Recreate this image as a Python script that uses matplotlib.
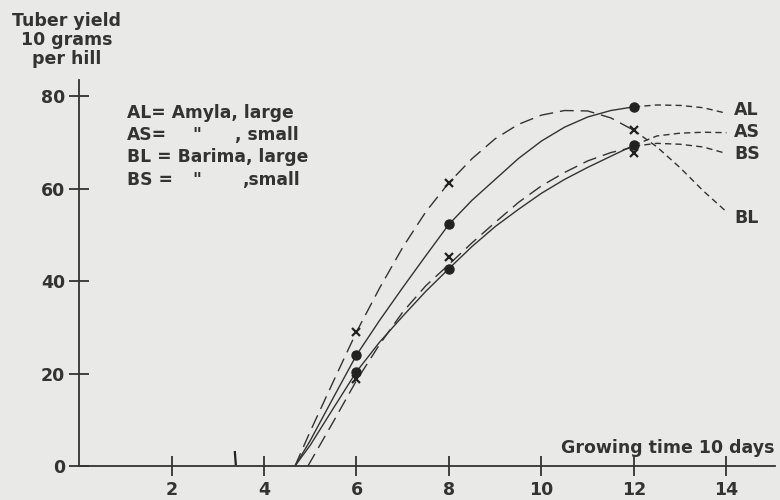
import matplotlib.pyplot as plt

# sampling days (10-day units) and readings
al_x = [4.67, 5.0, 5.5, 6.0, 6.5, 7.0, 7.5, 8.0, 8.5, 9.0, 9.5, 10.0, 10.5, 11.0, 11.5, 12.0]
al_y = [0, 5.5, 14.8, 24.0, 31.5, 38.6, 45.5, 52.3, 57.5, 62.0, 66.5, 70.3, 73.3, 75.5, 76.9, 77.7]
as_x = [4.67, 5.0, 5.5, 6.0, 6.5, 7.0, 7.5, 8.0, 8.5, 9.0, 9.5, 10.0, 10.5, 11.0, 11.5, 12.0]
as_y = [0, 4.5, 12.5, 20.4, 26.8, 32.4, 37.8, 42.7, 47.5, 51.8, 55.5, 59.0, 62.0, 64.6, 67.0, 69.4]
bl_x = [4.67, 5.0, 5.5, 6.0, 6.5, 7.0, 7.5, 8.0, 8.5, 9.0, 9.5, 10.0, 10.5, 11.0, 11.5, 12.0]
bl_y = [0, 7.5, 18.3, 29.0, 38.5, 47.3, 55.0, 61.3, 66.5, 70.8, 73.9, 75.9, 76.9, 76.8, 75.3, 72.6]
bs_x = [4.95, 5.5, 6.0, 6.5, 7.0, 7.5, 8.0, 8.5, 9.0, 9.5, 10.0, 10.5, 11.0, 11.5, 12.0]
bs_y = [0, 9.6, 18.5, 26.3, 33.3, 39.0, 43.6, 48.3, 52.7, 57.0, 60.6, 63.5, 66.0, 67.8, 69.0]

# extrapolated parts beyond the last harvest
ext_x = [12.0, 12.5, 13.0, 13.5, 14.0]
al_ext = [77.7, 78.1, 78.0, 77.5, 76.3]
as_ext = [69.4, 71.4, 72.0, 72.2, 72.1]
bl_ext = [72.6, 69.0, 64.5, 59.5, 55.0]
bs_ext = [69.2, 69.8, 69.6, 69.0, 67.6]

# harvest observations
harvest = [6, 8, 12]
al_obs = [24.0, 52.3, 77.7]
as_obs = [20.4, 42.7, 69.4]
bl_obs = [29.0, 61.3, 72.6]
bs_obs = [18.8, 45.3, 67.7]

x_ticks = [2, 4, 6, 8, 10, 12, 14]
y_ticks = [0, 20, 40, 60, 80]
planting = 3.37

ink = '#333333'
paper = '#e9e9e7'
plt.rcParams['font.family'] = ['DejaVu Sans']

fig = plt.figure(figsize=(7.8, 5.0), dpi=100, facecolor=paper)
ax = fig.add_axes([0.1013, 0.068, 0.8923, 0.772])
ax.set_facecolor(paper)
ax.set_xlim(0, 15.05)
ax.set_ylim(0, 83.5)

long_dash = (0, (10, 5))
short_dash = (0, (4.5, 3))
lw = 1.0

ax.plot(al_x, al_y, color=ink, lw=lw)
ax.plot(as_x, as_y, color=ink, lw=lw)
ax.plot(bl_x, bl_y, color=ink, lw=lw, ls=long_dash)
ax.plot(bs_x, bs_y, color=ink, lw=lw, ls=long_dash)
for ys in (al_ext, as_ext, bl_ext, bs_ext):
    ax.plot(ext_x, ys, color=ink, lw=lw, ls=short_dash, clip_on=False)

for obs in (al_obs, as_obs):
    ax.plot(harvest, obs, 'o', color='#222222', ms=6.5, zorder=5)
for obs in (bl_obs, bs_obs):
    ax.plot(harvest, obs, 'x', color='#222222', ms=6, mew=1.6, zorder=5)

# small stroke on the axis
ax.plot([planting + 0.02, planting], [0.4, 3.0], color='#222222', lw=1.6)

for side in ('top', 'right'):
    ax.spines[side].set_visible(False)
for side in ('left', 'bottom'):
    ax.spines[side].set_color(ink)
    ax.spines[side].set_linewidth(1.3)

tick_font = dict(fontsize=12.5, fontweight='bold', color=ink)
ax.set_xticks(x_ticks)
ax.set_xticklabels([str(t) for t in x_ticks], **tick_font)
ax.set_yticks(y_ticks)
ax.set_yticklabels([str(t) for t in y_ticks], **tick_font)
ax.tick_params(axis='both', direction='inout', length=14, width=1.3, color=ink)
ax.tick_params(axis='x', pad=4)
ax.tick_params(axis='y', pad=3)

ax.text(10.43, 3.9, 'Growing time 10 days', fontsize=12.5, fontweight='bold',
        color=ink, va='center', ha='left', clip_on=False)
fig.text(67 / 780, 1 - 40 / 500, 'Tuber yield\n10 grams\nper hill', ha='center',
         va='center', fontsize=12.5, fontweight='bold', color=ink, linespacing=1.05)

# key
key_font = dict(fontsize=12.3, fontweight='bold', color=ink, va='center')
ax.text(1.04, 76.3, 'AL= Amyla, large', **key_font)
ax.text(1.04, 71.6, 'AS=', **key_font)
ax.text(2.46, 71.6, '"', **key_font)
ax.text(3.37, 71.6, ', small', **key_font)
ax.text(1.04, 66.8, 'BL = Barima, large', **key_font)
ax.text(1.04, 61.8, 'BS =', **key_font)
ax.text(2.46, 61.8, '"', **key_font)
ax.text(3.52, 61.8, ',small', **key_font)

# curve labels
for name, yv in (('AL', 77.0), ('AS', 72.3), ('BS', 67.6), ('BL', 53.6)):
    ax.text(14.17, yv, name, fontsize=12.5, fontweight='bold', color=ink,
            va='center', ha='left', clip_on=False)

fig.savefig('out.png', dpi=100, facecolor=paper)
